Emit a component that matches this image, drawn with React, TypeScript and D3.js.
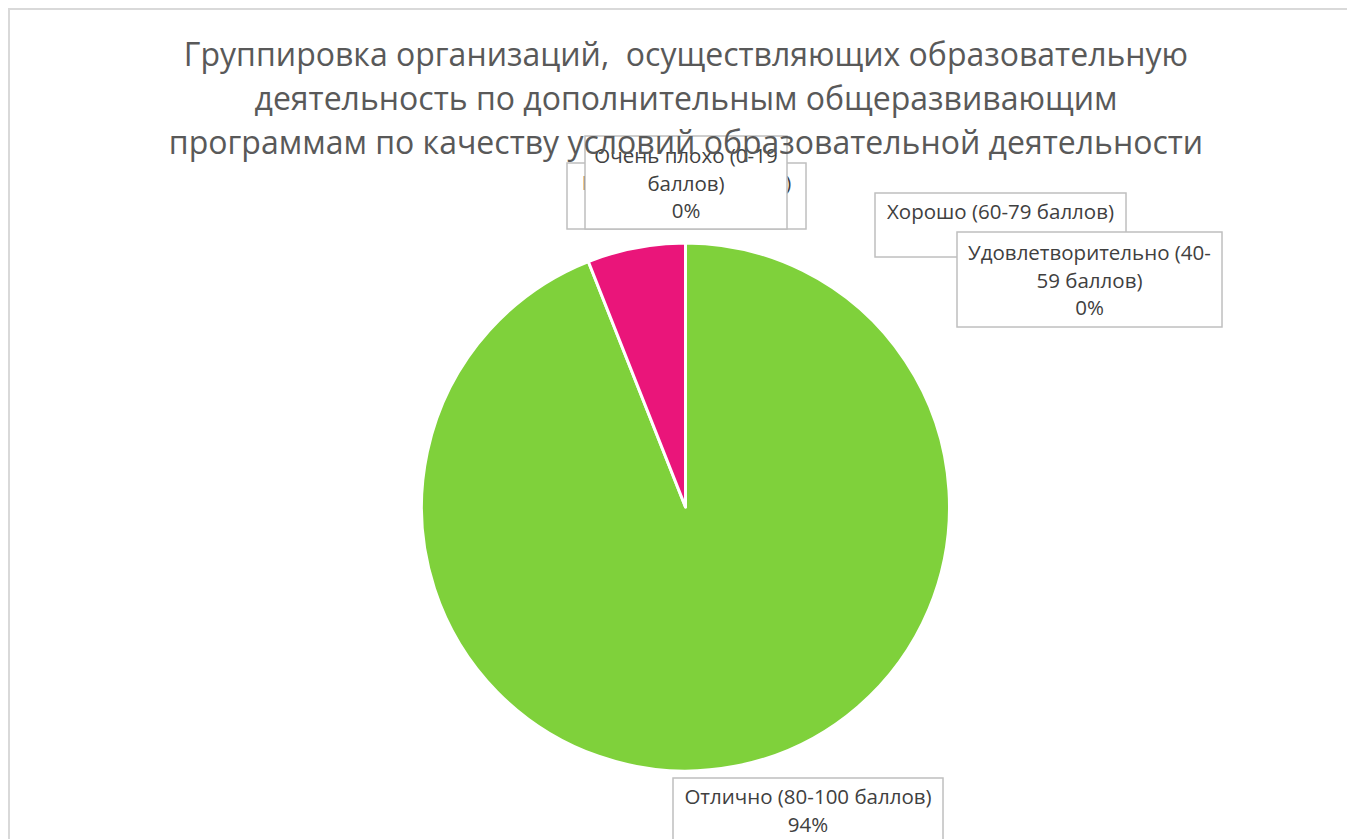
import React from "react";
import * as d3 from "d3";

const categories = [
  "Отлично (80-100 баллов)",
  "Хорошо (60-79 баллов)",
  "Удовлетворительно (40-59 баллов)",
  "Плохо (20-39 баллов)",
  "Очень плохо (0-19 баллов)",
];
const values = [94, 6, 0, 0, 0];
const colors = ["#7FD13B", "#EA157A", "#60B5CC", "#E66C37", "#6B5B95"];
const labelLines = [
  ["Отлично (80-100 баллов)", "94%"],
  ["Хорошо (60-79 баллов)", "6%"],
  ["Удовлетворительно (40-", "59 баллов)", "0%"],
  ["Плохо (20-39 баллов)", "0%"],
  ["Очень плохо (0-19", "баллов)", "0%"],
];
const titleLines = [
  "Группировка организаций,  осуществляющих образовательную",
  "деятельность по дополнительным общеразвивающим",
  "программам по качеству условий образовательной деятельности",
];

// layout (page coordinates)
const labelBoxes = [
  { x: 673, y: 778, w: 270, h: 64 },
  { x: 875, y: 193, w: 251, h: 64 },
  { x: 957, y: 232, w: 265, h: 95 },
  { x: 567, y: 163, w: 239, h: 66 },
  { x: 585, y: 136, w: 202, h: 93 },
];

const FONT = "'Open Sans', 'Noto Sans', sans-serif";

export default function App() {
  const cx = 685.5;
  const cy = 507;
  const r = 264;
  const pie = d3
    .pie<number>()
    .sort(null)
    .value((d) => d)
    .startAngle(0)
    .endAngle(2 * Math.PI);
  const arcs = pie(values);
  const arc = d3.arc<d3.PieArcDatum<number>>().innerRadius(0).outerRadius(r);
  const lh = 27.5;

  return (
    <svg width={1347} height={831} style={{ display: "block" }}>
      <g transform="translate(-8,-8)">
        <rect x={0} y={0} width={1400} height={900} fill="#ffffff" />
        <rect
          x={9}
          y={9}
          width={1400}
          height={900}
          fill="#ffffff"
          stroke="#d9d9d9"
          strokeWidth={2}
        />
        <g transform={`translate(${cx},${cy})`}>
          {arcs.map((a, i) =>
            a.value > 0 ? (
              <path
                key={categories[i]}
                d={arc(a) || ""}
                fill={colors[i]}
                stroke="#ffffff"
                strokeWidth={3}
                strokeLinejoin="round"
              />
            ) : null
          )}
        </g>
        {labelBoxes.map((b, i) => {
          const lines = labelLines[i];
          const mid = b.y + b.h / 2;
          const y0 = mid - ((lines.length - 1) * lh) / 2 + 8;
          return (
            <g key={"lbl" + i}>
              <rect
                x={b.x}
                y={b.y}
                width={b.w}
                height={b.h}
                fill="#ffffff"
                stroke="#bfbfbf"
                strokeWidth={1.5}
              />
              {lines.map((t, j) => (
                <text
                  key={j}
                  x={b.x + b.w / 2}
                  y={y0 + j * lh}
                  textAnchor="middle"
                  fontFamily={FONT}
                  fontSize={20.5}
                  fill="#404040"
                >
                  {t}
                </text>
              ))}
            </g>
          );
        })}
        {titleLines.map((t, i) => (
          <text
            key={"t" + i}
            x={686}
            y={66 + i * 44}
            textAnchor="middle"
            fontFamily={FONT}
            fontSize={32}
            fill="#595959"
            style={{ whiteSpace: "pre" }}
          >
            {t}
          </text>
        ))}
      </g>
    </svg>
  );
}
